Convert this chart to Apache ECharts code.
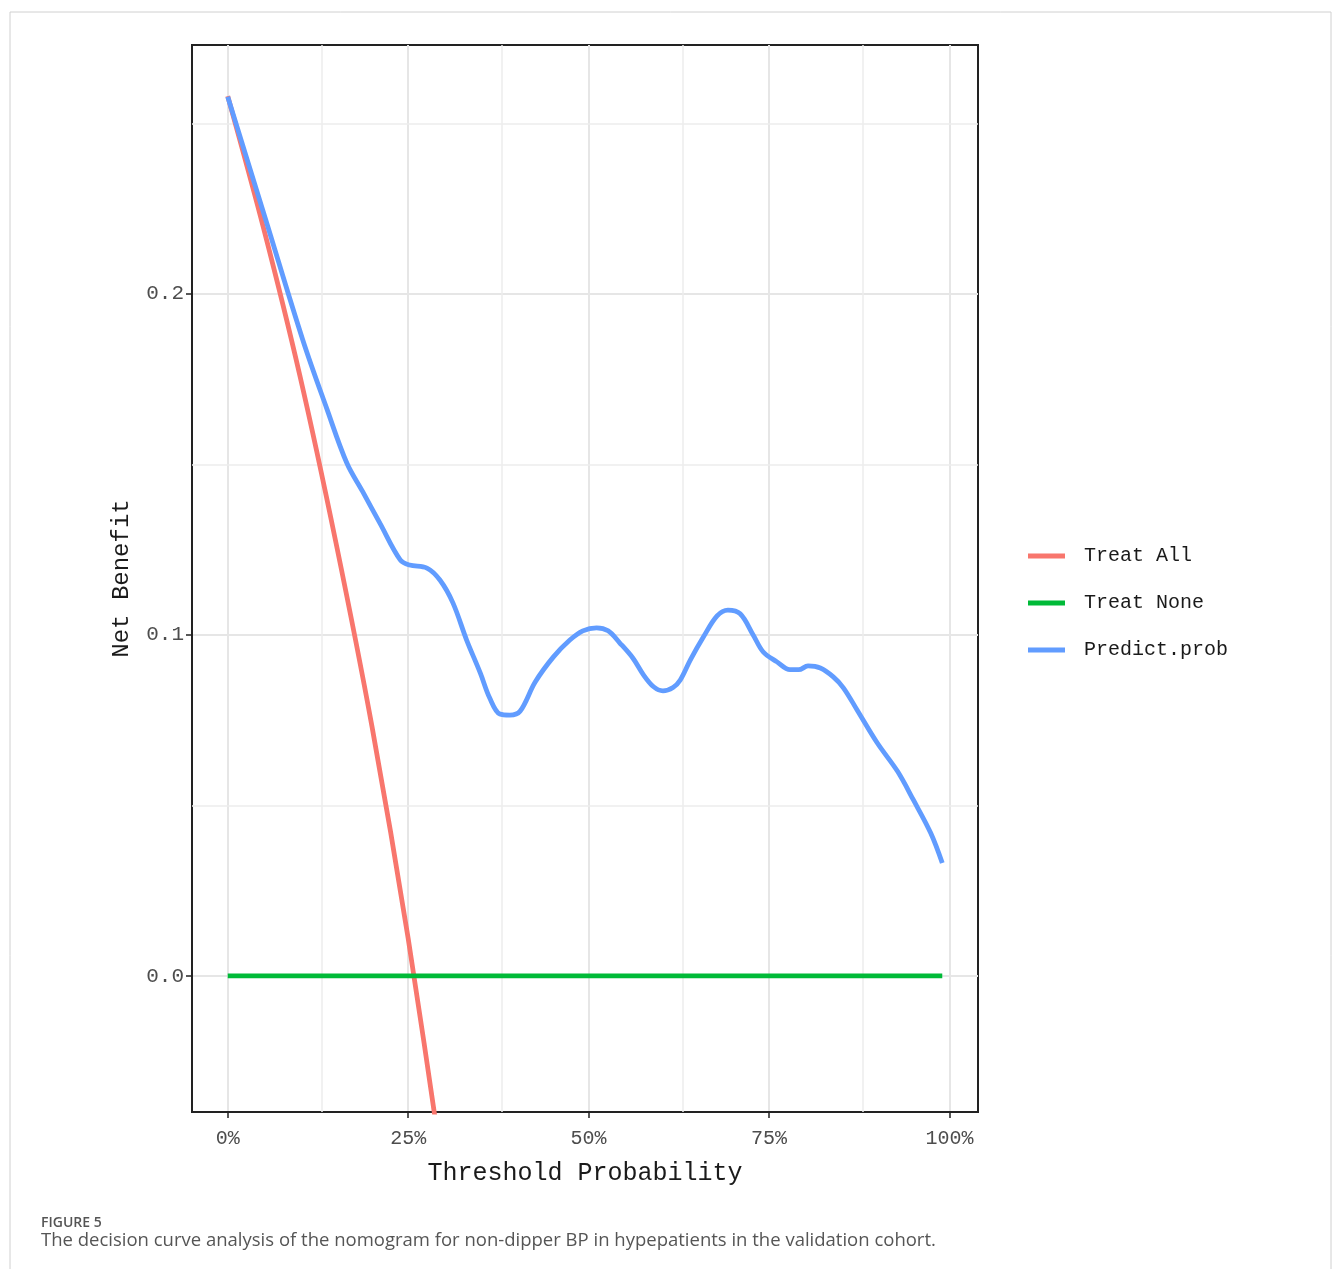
<!DOCTYPE html>
<html>
<head>
<meta charset="utf-8">
<script src="https://cdn.jsdelivr.net/npm/echarts@6/dist/echarts.min.js"></script>
<style>
html,body{margin:0;padding:0;background:#fff;}
#chart{width:1333px;height:1269px;}
</style>
</head>
<body>
<div id="chart"></div>
<script>
// ---- data ----
const seriesNames = ['Treat All', 'Treat None', 'Predict.prob'];
const treatAll = [[0,0.258],[0.05,0.219],[0.10,0.176],[0.15,0.127],[0.20,0.073],[0.25,0.011],[0.30,-0.060]];
const treatNone = [[0,0],[0.99,0]];
const predictProb = [
  [0,0.2578],[0.052,0.2222],[0.104,0.1865],[0.137,0.1665],
  [0.165,0.1504],[0.187,0.1420],[0.211,0.1327],[0.239,0.1220],[0.252,0.1205],[0.276,0.1196],
  [0.294,0.1161],[0.312,0.1094],[0.331,0.0985],[0.350,0.0888],[0.363,0.0815],[0.377,0.0768],
  [0.391,0.0765],[0.405,0.0776],[0.426,0.0862],[0.451,0.0935],[0.474,0.0985],[0.492,0.1012],
  [0.511,0.1021],[0.527,0.1012],[0.543,0.0977],[0.561,0.0933],[0.576,0.0883],[0.590,0.0848],
  [0.603,0.0836],[0.617,0.0846],[0.627,0.0868],[0.641,0.0927],[0.659,0.0994],[0.678,0.1056],
  [0.693,0.1073],[0.710,0.1062],[0.728,0.1000],[0.742,0.0950],[0.761,0.0921],[0.779,0.0898],
  [0.791,0.0898],[0.804,0.0909],[0.821,0.0903],[0.839,0.0877],[0.853,0.0845],[0.872,0.0780],
  [0.900,0.0683],[0.928,0.0600],[0.950,0.0516],[0.974,0.0419],[0.990,0.0331]
];
const xTicks = [0, 0.25, 0.5, 0.75, 1];
const xTickLabels = ['0%', '25%', '50%', '75%', '100%'];
const xMinorTicks = [0.125, 0.375, 0.625, 0.875];
const yTicks = [0, 0.1, 0.2];
const yTickLabels = ['0.0', '0.1', '0.2'];
const yMinorTicks = [0.05, 0.15, 0.25];
const xRange = [-0.0495, 1.0395];
const yRange = [-0.0399, 0.273];
const colors = ['#F8766D', '#00BA38', '#619CFF'];

const FONT = '"Liberation Mono", "DejaVu Sans Mono", monospace';
const chart = echarts.init(document.getElementById('chart'), null, {renderer: 'canvas'});

const minorLines = [
  ...xMinorTicks.map(v => ({xAxis: v})),
  ...yMinorTicks.map(v => ({yAxis: v}))
];

chart.setOption({
  animation: false,
  backgroundColor: '#fff',
  color: colors,
  grid: {left: 192, top: 45, right: 355, bottom: 157, show: true, borderColor: '#222', borderWidth: 2, backgroundColor: '#fff'},
  legend: {
    orient: 'vertical', left: 1028, top: 546, padding: 0,
    itemWidth: 37, itemHeight: 5, itemGap: 27,
    icon: 'rect',
    data: seriesNames,
    textStyle: {fontFamily: FONT, fontSize: 20, color: '#1a1a1a', padding: [0,0,0,14]}
  },
  xAxis: {
    type: 'value', min: xRange[0], max: xRange[1],
    name: 'Threshold Probability', nameLocation: 'middle', nameGap: 49,
    nameTextStyle: {fontFamily: FONT, fontSize: 25, color: '#1a1a1a'},
    axisLine: {show: true, onZero: false, lineStyle: {color: '#222', width: 2}},
    axisTick: {show: true, length: 6, customValues: xTicks, lineStyle: {color: '#222', width: 1.5}},
    axisLabel: {customValues: xTicks, formatter: v => xTickLabels[xTicks.indexOf(Math.round(v*1000)/1000)] ?? '', fontFamily: FONT, fontSize: 20, color: '#4d4d4d', margin: 17},
    splitLine: {show: true, lineStyle: {color: '#e6e6e6', width: 2}}
  },
  yAxis: {
    type: 'value', min: yRange[0], max: yRange[1],
    name: 'Net Benefit', nameLocation: 'middle', nameGap: 58,
    nameTextStyle: {fontFamily: FONT, fontSize: 24, color: '#1a1a1a'},
    axisLine: {show: true, onZero: false, lineStyle: {color: '#222', width: 2}},
    axisTick: {show: true, length: 6, customValues: yTicks, lineStyle: {color: '#222', width: 1.5}},
    axisLabel: {customValues: yTicks, formatter: v => yTickLabels[yTicks.indexOf(Math.round(v*1000)/1000)] ?? '', fontFamily: FONT, fontSize: 21, color: '#4d4d4d', margin: 8},
    splitLine: {show: true, lineStyle: {color: '#e6e6e6', width: 2}}
  },
  series: [
    {name: seriesNames[0], type: 'line', data: treatAll, smooth: 0.3, showSymbol: false, lineStyle: {width: 4.8}, clip: true, z: 3,
     markLine: {silent: true, symbol: 'none', label: {show: false}, lineStyle: {color: '#ededed', width: 1.5, type: 'solid'}, data: minorLines, z: 1}},
    {name: seriesNames[1], type: 'line', data: treatNone, showSymbol: false, lineStyle: {width: 4.8}, z: 3},
    {name: seriesNames[2], type: 'line', data: predictProb, smooth: 0.35, showSymbol: false, lineStyle: {width: 4.8}, z: 4}
  ],
  graphic: [
    {type: 'rect', shape: {x: 10, y: 12, width: 1321, height: 1300}, style: {fill: 'none', stroke: '#d0d0d0', lineWidth: 1}, silent: true},
    {type: 'text', left: 41, top: 1216, style: {text: 'FIGURE 5', font: '600 14px "Open Sans", sans-serif', fill: '#555'}},
    {type: 'text', left: 41, top: 1231, style: {text: 'The decision curve analysis of the nomogram for non-dipper BP in hypepatients in the validation cohort.', font: '18.5px "Open Sans", sans-serif', fill: '#555'}}
  ]
});
</script>
</body>
</html>
